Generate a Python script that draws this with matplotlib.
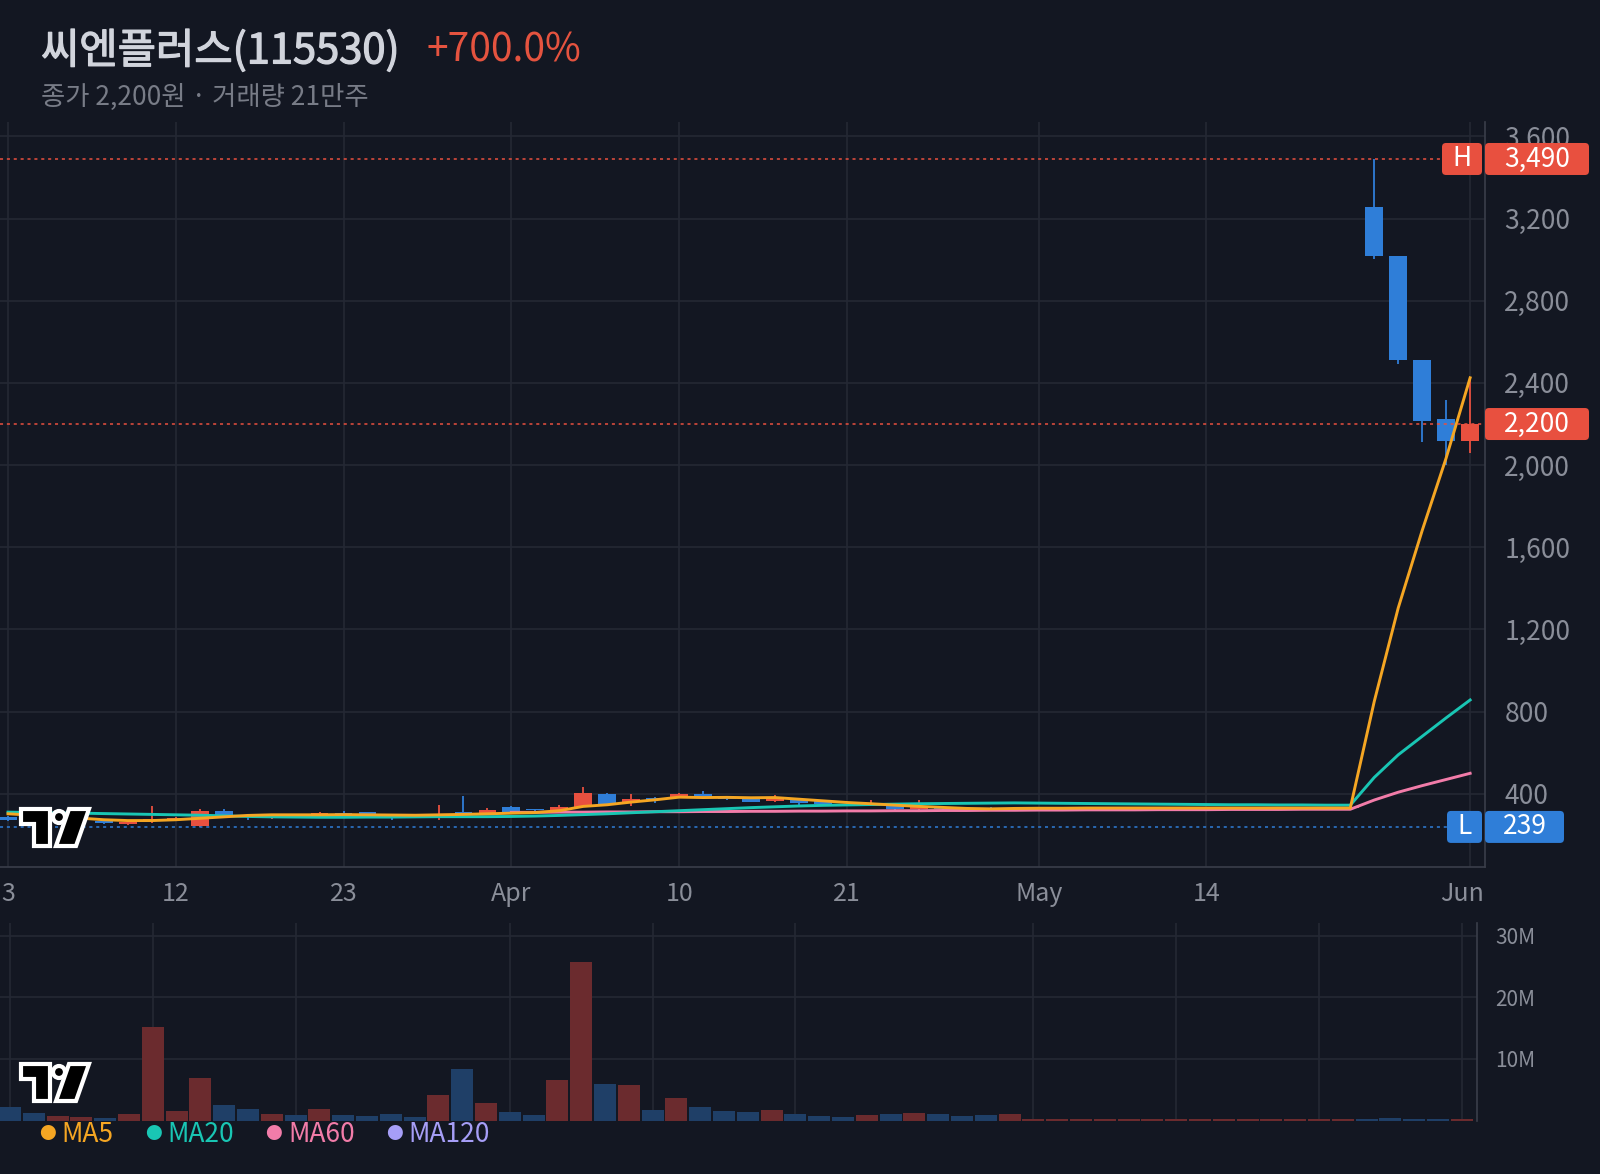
import matplotlib
matplotlib.use("Agg")
import matplotlib.pyplot as plt
import matplotlib.patheffects as pe
from matplotlib.patches import FancyBboxPatch, Polygon, Circle
from matplotlib.transforms import IdentityTransform
import numpy as np

plt.rcParams['font.family'] = ['Noto Sans CJK KR', 'DejaVu Sans']

# ---------------- data ----------------
title = "씨엔플러스(115530)"
change_txt = "+700.0%"
subtitle = "종가 2,200원 · 거래량 21만주"

opens = [287, 284, 268, 266, 270, 253, 272, 274, 244, 317,
         292, 288, 290, 297, 308, 310, 295, 296, 300, 310,
         306, 337, 322, 319, 338, 397, 360, 379, 384, 398,
         378, 374, 363, 371, 363, 352, 342, 342, 325, 330,
         330, 329, 326, 330, 330, 330, 330, 330, 330, 330,
         330, 330, 330, 330, 330, 330, 330, 3258, 3020, 2514,
         2226, 2117]
highs = [291, 288, 276, 272, 272, 267, 342, 285, 327, 327,
         302, 293, 292, 310, 316, 312, 302, 298, 345, 390,
         330, 343, 324, 348, 435, 406, 397, 384, 402, 416,
         380, 376, 395, 373, 365, 356, 370, 344, 370, 332,
         332, 335, 333, 330, 330, 330, 330, 330, 330, 330,
         330, 330, 330, 330, 330, 330, 330, 3490, 3020, 2514,
         2316, 2430]
lows = [270, 268, 262, 258, 253, 250, 258, 270, 239, 293,
        272, 276, 285, 282, 296, 296, 272, 290, 275, 298,
        303, 311, 316, 316, 335, 350, 342, 355, 382, 385,
        368, 358, 360, 347, 348, 345, 340, 323, 323, 323,
        325, 326, 324, 330, 330, 330, 330, 330, 330, 330,
        330, 330, 330, 330, 330, 330, 330, 3005, 2494, 2112,
        2003, 2058]
closes = [275, 272, 273, 270, 258, 265, 275, 282, 317, 296,
          289, 290, 287, 305, 298, 298, 293, 294, 303, 301,
          322, 313, 320, 337, 406, 353, 376, 372, 397, 387,
          376, 361, 382, 354, 350, 348, 355, 325, 338, 325,
          327, 327, 330, 330, 330, 330, 330, 330, 330, 330,
          330, 330, 330, 330, 330, 330, 330, 3020, 2514, 2216,
          2117, 2200]
# volume in millions of shares
volume = [2.2, 1.25, 0.76, 0.6, 0.43, 1.08, 15.2, 1.57, 6.93, 2.54,
          1.9, 1.08, 0.92, 1.9, 0.92, 0.76, 1.08, 0.6, 4.17, 8.39,
          2.87, 1.41, 0.92, 6.6, 25.8, 5.96, 5.79, 1.73, 3.68, 2.2,
          1.57, 1.41, 1.73, 1.08, 0.76, 0.6, 0.92, 1.08, 1.25, 1.08,
          0.76, 0.92, 1.08, 0.3, 0.3, 0.3, 0.3, 0.3, 0.3, 0.3,
          0.3, 0.3, 0.3, 0.3, 0.3, 0.3, 0.3, 0.3, 0.45, 0.3,
          0.3, 0.25]
ma5 = [303, 296, 289, 282, 274, 270, 270, 274, 281, 288,
       295, 298, 298, 298, 299, 298, 297, 296, 298, 300,
       303, 306, 309, 318, 339, 347, 360, 371, 384, 382,
       383, 381, 382, 374, 366, 358, 352, 345, 339, 334,
       329, 327, 329, 330, 330, 331, 331, 331, 331, 331,
       331, 331, 331, 331, 331, 331, 331, 850, 1305, 1682,
       2035, 2425]
ma20 = [311, 309, 307, 306, 304, 302, 300, 298, 296, 293,
        290, 288, 287, 286, 286, 287, 287, 288, 289, 289,
        289, 290, 292, 295, 299, 303, 308, 313, 318, 323,
        328, 333, 337, 341, 344, 346, 348, 350, 352, 353,
        354, 355, 356, 355, 354, 353, 352, 351, 350, 349,
        348, 347, 347, 346, 346, 345, 345, 480, 590, 680,
        770, 857]
ma60 = [np.nan] * 21 + [
        310, 310, 311, 311, 312, 312, 313, 313, 314,
        314, 315, 315, 316, 316, 317, 317, 318, 318, 319,
        319, 320, 320, 321, 321, 322, 322, 322, 323, 323,
        323, 324, 324, 324, 325, 325, 325, 370, 408, 440,
        470, 500]

high_val, low_val, last_val = 3490, 239, 2200
price_ticks = [400, 800, 1200, 1600, 2000, 2400, 2800, 3200, 3600]
x_labels = ["3", "12", "23", "Apr", "10", "21", "May", "14", "Jun"]
x_label_idx = [0, 7, 14, 21, 28, 35, 43, 50, 60.67]
price_grid_idx = [0, 7, 14, 21, 28, 35, 43, 50, 61]
vol_grid_idx = [0, 6, 12, 21, 27, 33, 43, 49, 55, 61]
vol_ticks = [10, 20, 30]
legend_items = [("MA5", "#f5a623"), ("MA20", "#19c6b4"),
                ("MA60", "#f27ca9"), ("MA120", "#a69ef7")]

# ---------------- style ----------------
BG = "#131722"
GRID = "#242834"
AXLINE = "#3a3e4a"
TXT = "#8a8e99"
RED = "#e8503f"
BLUE = "#2f7ed8"
VRED = "#6b2b2e"
VBLUE = "#1f3f67"

W, H = 1600, 1174
fig = plt.figure(figsize=(W / 100, H / 100), dpi=100, facecolor=BG)

def fx(px):
    return px / W

def fy(py):
    return 1 - py / H

opens, highs, lows, closes = map(np.array, (opens, highs, lows, closes))
x = np.arange(len(closes))
up = closes >= opens
ccol = np.where(up, RED, BLUE)

# ---------------- price panel ----------------
ax = fig.add_axes([0, fy(867), fx(1485), (867 - 122) / H])
ax.set_facecolor(BG)
ax.set_xlim(-0.334, 61.62)
ax.set_ylim(44, 3670)

ax.vlines(x, lows, highs, colors=ccol, lw=1.3, zorder=3)
ax.bar(x, np.maximum(np.abs(closes - opens), 4), bottom=np.minimum(opens, closes),
       width=0.74, color=ccol, zorder=3)

ax.plot(x, ma60, color=legend_items[2][1], lw=2.1, zorder=4)
ax.plot(x, ma20, color=legend_items[1][1], lw=2.1, zorder=4)
ax.plot(x, ma5, color=legend_items[0][1], lw=2.1, zorder=4)

ax.axhline(high_val, xmax=(1442 / 1485), color=RED, lw=1.1, ls=(0, (2, 2.5)), zorder=5)
ax.axhline(last_val, color=RED, lw=1.1, ls=(0, (2, 2.5)), zorder=5)
ax.axhline(low_val, xmax=(1447 / 1485), color=BLUE, lw=1.1, ls=(0, (2, 2.5)), zorder=5)

ax.set_yticks(price_ticks)
ax.set_yticklabels([f"{v:,}" for v in price_ticks])
ax.yaxis.tick_right()
ax.tick_params(axis='y', length=0, pad=14, labelsize=19, labelcolor=TXT)
ax.set_xticks(price_grid_idx)
ax.tick_params(axis='x', length=0, labelbottom=False)
ax.grid(True, color=GRID, lw=1.2, zorder=0)
ax.set_axisbelow(True)
for s in ("top", "left"):
    ax.spines[s].set_visible(False)
for s in ("right", "bottom"):
    ax.spines[s].set_color(AXLINE)
    ax.spines[s].set_linewidth(1.2)

for lbl, pos in zip(x_labels, x_label_idx):
    ax.text(pos, -(894 - 867) / 745, lbl, transform=ax.get_xaxis_transform(),
            ha="center", va="center", fontsize=18, color=TXT)

# ---------------- volume panel ----------------
vax = fig.add_axes([0, fy(1120.5), fx(1477), (1120.5 - 923) / H])
vax.set_facecolor(BG)
vax.set_xlim(-0.42, 61.64)
vax.set_ylim(0, 32.06)
vax.bar(x, volume, width=0.92, color=np.where(up, VRED, VBLUE), zorder=2)
vax.set_yticks(vol_ticks)
vax.set_yticklabels([f"{v}M" for v in vol_ticks])
vax.yaxis.tick_right()
vax.tick_params(axis='y', length=0, pad=13, labelsize=15, labelcolor=TXT)
vax.set_xticks(vol_grid_idx)
vax.tick_params(axis='x', length=0, labelbottom=False)
vax.grid(True, color=GRID, lw=1.2, zorder=0)
vax.set_axisbelow(True)
for s in ("top", "left", "bottom"):
    vax.spines[s].set_visible(False)
vax.spines["right"].set_color(AXLINE)
vax.spines["right"].set_linewidth(1.2)

# ---------------- price tags ----------------
fig.canvas.draw()

def box(x0, x1, yc, color, text, h=32):
    fig.add_artist(FancyBboxPatch((x0, yc - h / 2), x1 - x0, h,
                                  boxstyle="round,pad=0,rounding_size=4",
                                  transform=IdentityTransform(), fc=color, ec="none",
                                  zorder=10))
    fig.text(fx((x0 + x1) / 2), yc / H, text, ha="center", va="center",
             fontsize=19, color="white", zorder=11)

yh = ax.transData.transform((0, high_val))[1]
yl = ax.transData.transform((0, low_val))[1]
yc = ax.transData.transform((0, last_val))[1]
box(1442, 1482, yh, RED, "H")
box(1485, 1589, yh, RED, f"{high_val:,}")
box(1485, 1589, yc, RED, f"{last_val:,}")
box(1447, 1482, yl, BLUE, "L")
box(1485, 1564, yl, BLUE, f"{low_val:,}")

# ---------------- logos ----------------
def logo(x0, y0):
    def P(pts):
        return [(x0 + px, H - (y0 + py)) for px, py in pts]
    kw = dict(fc="black", ec="white", lw=3, joinstyle="miter",
              transform=IdentityTransform(), zorder=12)
    fig.add_artist(Polygon(P([(0, 0), (29, 0), (29, 37), (13, 37), (13, 15), (0, 15)]), **kw))
    fig.add_artist(Circle((x0 + 38, H - (y0 + 8)), 6, **kw))
    fig.add_artist(Polygon(P([(48, 0), (68, 0), (55, 37), (35, 37)]), **kw))

logo(21, 809)
logo(21, 1064)

# ---------------- header & legend ----------------
fig.text(fx(41), fy(51), title, ha="left", va="center", fontsize=30,
         color="#d1d4dc",
         path_effects=[pe.withStroke(linewidth=0.9, foreground="#d1d4dc")])
fig.text(fx(426), fy(51), change_txt, ha="left", va="center", fontsize=28,
         color="#e5533f")
fig.text(fx(41), fy(97), subtitle, ha="left", va="center", fontsize=19,
         color="#787c87")

leg_x = [(47, 61), (153, 167), (273, 288), (394, 408)]
for (lbl, c), (dx, tx) in zip(legend_items, leg_x):
    fig.text(fx(dx), fy(1134), "●", ha="center", va="center", fontsize=12, color=c)
    fig.text(fx(tx), fy(1134), lbl, ha="left", va="center", fontsize=19, color=c)

fig.savefig("out.png", dpi=100, facecolor=BG)
